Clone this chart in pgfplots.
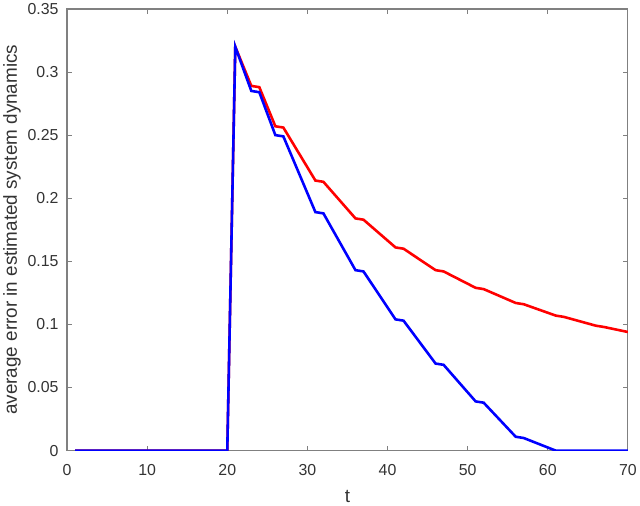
\documentclass[border=0pt]{standalone}
\usepackage{pgfplots}
\pgfplotsset{compat=1.18}
\usepackage{fontspec}
\setmainfont{Liberation Sans}
\definecolor{axgray}{RGB}{128,128,128}
\definecolor{txtgray}{RGB}{51,51,51}

\begin{document}
\begin{tikzpicture}
\begin{axis}[
  name=ax,
  scale only axis,
  width=565bp, height=445bp,
  xmin=0, xmax=70, ymin=0, ymax=0.35,
  xtick={0,10,...,70},
  ytick={0,0.05,0.1,0.15,0.2,0.25,0.3,0.35},
  yticklabels={0,0.05,0.1,0.15,0.2,0.25,0.3,0.35},
  axis line style={axgray, line width=1.2bp},
  tick style={axgray, line width=0.8bp},
  tick align=inside,
  major tick length=5bp,
  /pgf/number format/assume math mode=true,
  tick label style={font=\fontsize{16bp}{18bp}\selectfont, text=txtgray},
  label style={font=\fontsize{19bp}{21bp}\selectfont, text=txtgray},
  xlabel={t},
  ylabel={average error in estimated system dynamics},
  xticklabel style={yshift=-10bp},
  yticklabel style={xshift=-5bp},
  xlabel style={yshift=-8bp},
  ylabel style={yshift=0bp},
]
\addplot[red, line width=2.6bp] coordinates {
  (1,0) (20,0) (21,0.320) (23,0.289) (24,0.288) (26,0.257) (27,0.256)
  (31,0.214) (32,0.213) (36,0.184) (37,0.183) (41,0.161) (42,0.160)
  (46,0.143) (47,0.142) (51,0.129) (52,0.128) (56,0.117) (57,0.116)
  (61,0.107) (62,0.106) (66,0.099) (67,0.098) (70,0.094)
};
\addplot[blue, line width=2.6bp] coordinates {
  (1,0) (20,0) (21,0.320) (23,0.285) (24,0.284) (26,0.250) (27,0.249)
  (31,0.189) (32,0.188) (36,0.143) (37,0.142) (41,0.104) (42,0.103)
  (46,0.069) (47,0.068) (51,0.039) (52,0.038) (56,0.011) (57,0.010)
  (61,0) (70,0)
};
\end{axis}
\path ([shift={(-65bp,-54.3bp)}]ax.south west) rectangle ([shift={(10bp,6.7bp)}]ax.north east);
\end{tikzpicture}
\end{document}
